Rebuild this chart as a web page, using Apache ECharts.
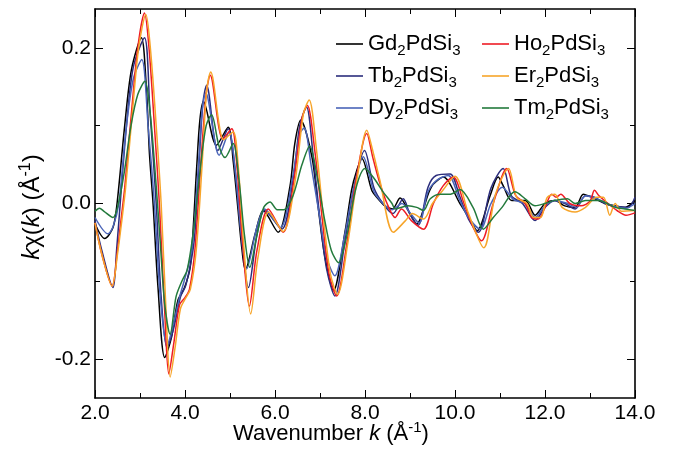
<!DOCTYPE html>
<html>
<head>
<meta charset="utf-8">
<script src="https://cdn.jsdelivr.net/npm/echarts@6/dist/echarts.min.js"></script>
<style>html,body{margin:0;padding:0;background:#fff}#c{width:677px;height:461px}</style>
</head>
<body>
<div id="c"></div>
<script>
const seriesNames = ['Gd2PdSi3', 'Tb2PdSi3', 'Dy2PdSi3', 'Ho2PdSi3', 'Er2PdSi3', 'Tm2PdSi3'];
const xTicks = [2, 4, 6, 8, 10, 12, 14];
const yTickLabels = [-0.2, 0.0, 0.2];
const yMinorTicks = [-0.1, 0.1];

const gd = [[2.0,-0.026],[2.215,-0.045],[2.4,-0.031],[2.49,0.0],[2.66,0.1],[2.81,0.172],[3.03,0.213],[3.14,0.15],[3.21,0.064],[3.29,0.0],[3.4,-0.108],[3.55,-0.198],[3.7,-0.172],[3.84,-0.125],[3.99,-0.108],[4.12,-0.08],[4.26,0.047],[4.33,0.107],[4.41,0.131],[4.7,0.075],[4.96,0.098],[5.07,0.055],[5.18,-0.009],[5.26,-0.056],[5.34,-0.085],[5.56,-0.039],[5.74,-0.009],[6.07,-0.037],[6.33,0.021],[6.44,0.077],[6.57,0.107],[6.82,0.06],[6.96,-0.005],[7.11,-0.069],[7.3,-0.112],[7.56,-0.035],[7.7,0.017],[7.82,0.043],[7.93,0.058],[8.15,0.017],[8.26,0.008],[8.44,-0.003],[8.61,-0.007],[8.78,0.007],[8.96,-0.009],[9.15,-0.026],[9.41,0.013],[9.52,0.025],[9.74,0.034],[10.11,0.0],[10.33,-0.02],[10.49,-0.035],[10.78,0.01],[10.96,0.034],[11.07,0.023],[11.26,0.004],[11.56,0.004],[11.78,-0.015],[12.0,0.0],[12.22,0.004],[12.44,-0.003],[12.67,-0.005],[12.85,0.012],[13.04,0.008],[13.33,0.0],[13.56,-0.003],[13.78,-0.005],[14.0,0.004]];
const tb = [[2.0,-0.022],[2.15,-0.06],[2.4,-0.108],[2.48,-0.06],[2.56,0.0],[2.7,0.1],[2.85,0.175],[3.1,0.213],[3.22,0.12],[3.36,0.0],[3.47,-0.12],[3.6,-0.185],[3.75,-0.16],[3.9,-0.12],[4.02,-0.105],[4.2,-0.05],[4.3,0.04],[4.4,0.13],[4.48,0.152],[4.73,0.068],[4.96,0.096],[5.1,0.05],[5.25,-0.04],[5.41,-0.108],[5.6,-0.04],[5.77,-0.009],[6.15,-0.033],[6.4,0.03],[6.55,0.1],[6.7,0.124],[6.85,0.06],[7.0,-0.02],[7.15,-0.085],[7.33,-0.119],[7.55,-0.05],[7.75,0.02],[7.99,0.068],[8.2,0.02],[8.4,0.0],[8.62,-0.013],[8.85,0.006],[9.0,-0.014],[9.18,-0.028],[9.4,0.021],[9.58,0.036],[9.89,0.038],[10.1,0.01],[10.3,-0.02],[10.52,-0.037],[10.8,0.02],[11.07,0.045],[11.25,0.01],[11.5,0.0],[11.78,-0.022],[12.0,-0.005],[12.22,0.004],[12.44,0.0],[12.67,-0.007],[12.9,0.01],[13.1,0.008],[13.33,0.0],[13.6,-0.004],[13.85,-0.005],[14.0,0.008]];
const dy = [[2.0,-0.018],[2.29,-0.039],[2.4,-0.03],[2.53,0.0],[2.68,0.09],[2.85,0.16],[3.04,0.185],[3.18,0.1],[3.32,0.0],[3.45,-0.12],[3.6,-0.183],[3.72,-0.16],[3.88,-0.12],[3.98,-0.1],[4.15,-0.06],[4.3,0.05],[4.38,0.12],[4.46,0.142],[4.76,0.062],[4.98,0.092],[5.12,0.04],[5.25,-0.04],[5.37,-0.084],[5.6,-0.03],[5.77,-0.007],[6.12,-0.031],[6.38,0.03],[6.55,0.09],[6.65,0.097],[6.8,0.05],[7.0,-0.02],[7.15,-0.07],[7.33,-0.093],[7.55,-0.04],[7.75,0.02],[7.96,0.06],[8.2,0.015],[8.4,0.0],[8.6,-0.008],[8.82,0.0],[9.0,-0.012],[9.2,-0.025],[9.4,0.015],[9.6,0.03],[9.85,0.036],[10.1,0.005],[10.3,-0.018],[10.56,-0.033],[10.8,0.0],[11.05,0.021],[11.3,0.005],[11.55,0.0],[11.78,-0.018],[12.0,-0.003],[12.22,0.004],[12.5,0.0],[12.7,-0.005],[12.9,0.01],[13.2,0.005],[13.5,-0.003],[13.8,-0.006],[14.0,0.0]];
const ho = [[2.0,-0.025],[2.15,-0.065],[2.38,-0.106],[2.5,-0.06],[2.58,-0.02],[2.66,0.02],[2.8,0.11],[2.95,0.2],[3.1,0.245],[3.2,0.2],[3.32,0.1],[3.43,0.0],[3.55,-0.14],[3.64,-0.219],[3.75,-0.18],[3.88,-0.13],[4.0,-0.121],[4.1,-0.11],[4.22,-0.06],[4.35,0.05],[4.47,0.14],[4.56,0.165],[4.84,0.083],[5.04,0.096],[5.15,0.05],[5.28,-0.05],[5.43,-0.132],[5.6,-0.06],[5.85,-0.007],[6.18,-0.037],[6.42,0.03],[6.6,0.11],[6.72,0.126],[6.88,0.07],[7.05,-0.02],[7.2,-0.09],[7.37,-0.119],[7.6,-0.05],[7.8,0.03],[8.04,0.09],[8.17,0.06],[8.31,0.03],[8.49,0.0],[8.67,-0.018],[8.81,-0.007],[9.03,-0.022],[9.3,-0.033],[9.52,0.0],[9.74,0.023],[9.96,0.034],[10.2,0.0],[10.4,-0.03],[10.59,-0.048],[10.85,0.0],[11.15,0.045],[11.35,0.01],[11.56,0.0],[11.7,-0.018],[11.85,-0.02],[12.0,-0.005],[12.15,0.012],[12.25,0.008],[12.35,0.012],[12.55,0.0],[12.8,-0.003],[13.0,0.003],[13.1,0.017],[13.2,0.01],[13.4,0.0],[13.6,-0.009],[13.8,-0.015],[14.0,-0.012]];
const er = [[2.0,-0.025],[2.15,-0.065],[2.38,-0.106],[2.5,-0.065],[2.6,-0.02],[2.68,0.02],[2.82,0.11],[2.97,0.2],[3.13,0.243],[3.23,0.2],[3.36,0.1],[3.47,0.0],[3.58,-0.14],[3.67,-0.223],[3.78,-0.185],[3.9,-0.135],[4.02,-0.121],[4.12,-0.11],[4.25,-0.06],[4.38,0.05],[4.48,0.145],[4.57,0.169],[4.86,0.082],[5.07,0.092],[5.18,0.05],[5.3,-0.05],[5.46,-0.142],[5.62,-0.07],[5.86,-0.011],[6.18,-0.036],[6.45,0.03],[6.63,0.115],[6.76,0.133],[6.92,0.07],[7.08,-0.02],[7.23,-0.09],[7.39,-0.117],[7.62,-0.05],[7.82,0.03],[8.04,0.094],[8.15,0.073],[8.33,0.03],[8.63,-0.037],[8.9,-0.022],[9.05,-0.013],[9.3,-0.02],[9.5,0.0],[9.73,0.017],[10.0,0.035],[10.3,-0.013],[10.64,-0.057],[10.9,0.012],[11.19,0.045],[11.37,0.008],[11.6,0.0],[11.75,-0.018],[11.9,-0.018],[12.05,0.008],[12.22,0.012],[12.38,-0.005],[12.67,-0.011],[12.9,-0.005],[13.15,0.008],[13.3,0.008],[13.44,-0.015],[13.56,0.0],[13.7,-0.01],[14.0,-0.009]];
const tm = [[2.0,-0.01],[2.1,-0.006],[2.2,-0.01],[2.4,-0.018],[2.5,-0.005],[2.65,0.04],[2.8,0.1],[2.95,0.14],[3.11,0.157],[3.22,0.12],[3.35,0.03],[3.45,-0.05],[3.55,-0.13],[3.67,-0.168],[3.8,-0.12],[3.93,-0.1],[4.05,-0.085],[4.2,-0.03],[4.35,0.05],[4.47,0.1],[4.59,0.114],[4.75,0.075],[4.89,0.059],[5.07,0.077],[5.2,0.03],[5.32,-0.04],[5.44,-0.082],[5.6,-0.04],[5.75,-0.005],[5.89,0.002],[6.05,-0.008],[6.2,-0.008],[6.4,0.01],[6.6,0.05],[6.77,0.074],[6.95,0.03],[7.1,-0.02],[7.25,-0.06],[7.41,-0.076],[7.6,-0.04],[7.8,0.02],[8.0,0.045],[8.18,0.034],[8.4,0.015],[8.6,0.0],[8.67,-0.007],[8.95,-0.003],[9.15,-0.005],[9.3,-0.009],[9.45,0.006],[9.67,0.012],[9.9,0.012],[10.11,0.018],[10.4,-0.005],[10.63,-0.033],[10.85,-0.018],[11.07,-0.003],[11.22,0.01],[11.33,0.015],[11.56,0.006],[11.78,-0.003],[12.0,0.0],[12.22,0.004],[12.5,0.006],[12.67,0.0],[12.9,0.004],[13.2,0.004],[13.56,-0.005],[13.78,-0.007],[14.0,-0.009]];

const seriesData = [gd, tb, dy, ho, er, tm];
const colors = ['#000000', '#2b2d7c', '#4a64b8', '#ee1c25', '#f7a52a', '#237a3c'];

const FONT = '"Liberation Sans", Arial, Helvetica, sans-serif';
const chart = echarts.init(document.getElementById('c'), null, {renderer: 'canvas'});

const fmtName = n => n.replace(/(\d)/g, '{s|$1}');
const legendText = {
  fontSize: 22, fontFamily: FONT, color: '#000',
  rich: { s: { fontSize: 15, fontFamily: FONT, color: '#000', padding: [13, 0, 0, 0] } }
};

function xAx(pos, labels) {
  return {
    type: 'value', min: 2, max: 14, interval: 2, position: pos,
    axisLine: { show: true, onZero: false, lineStyle: { color: '#000', width: 1.6 } },
    axisTick: { show: true, inside: true, length: 8, lineStyle: { color: '#000', width: 1 } },
    minorTick: { show: true, splitNumber: 2, length: 5, lineStyle: { color: '#000', width: 1 } },
    axisLabel: { show: labels, fontSize: 21, fontFamily: FONT, color: '#000', margin: 5,
      formatter: v => v.toFixed(1) },
    splitLine: { show: false }, minorSplitLine: { show: false }
  };
}
function yAx(pos, major, labels) {
  return {
    type: 'value', min: -0.25, max: 0.25, position: pos,
    axisLine: { show: major, onZero: false, lineStyle: { color: '#000', width: 1.6 } },
    axisTick: { show: true, inside: true, length: major ? 8 : 5, customValues: major ? yTickLabels : yMinorTicks,
      lineStyle: { color: '#000', width: 1 } },
    axisLabel: { show: labels, customValues: yTickLabels, fontSize: 21, fontFamily: FONT, color: '#000', margin: 4,
      formatter: v => v.toFixed(1) },
    splitLine: { show: false }
  };
}

const legendBase = { orient: 'vertical', top: 33, padding: 0, itemWidth: 27, itemHeight: 1.6,
  itemGap: 7, formatter: fmtName, textStyle: legendText, icon: 'rect', itemStyle: { borderWidth: 0 } };

const option = {
  backgroundColor: '#fff',
  animation: false,
  grid: { left: 95, right: 42, top: 9, bottom: 63, containLabel: false },
  xAxis: [xAx('bottom', true), xAx('top', false)],
  yAxis: [yAx('left', true, true), yAx('left', false, false), yAx('right', true, false), yAx('right', false, false)],
  legend: [
    Object.assign({ data: seriesNames.slice(0, 3), left: 336 }, legendBase),
    Object.assign({ data: seriesNames.slice(3), left: 482 }, legendBase)
  ],
  series: seriesNames.map((n, i) => ({
    name: n, type: 'line', data: seriesData[i], xAxisIndex: 0, yAxisIndex: 0,
    symbol: 'none', smooth: 0.3, color: colors[i],
    lineStyle: { color: colors[i], width: 1.5 }
  })),
  graphic: [
    { type: 'text', x: 331, y: 434, style: {
        text: '{n|Wavenumber }{i|k}{n| (Å}{s|-1}{n|)}', align: 'center', verticalAlign: 'middle',
        rich: { n: { fontSize: 22, fontFamily: FONT, fill: '#000' }, i: { fontSize: 22, fontFamily: FONT, fontStyle: 'italic', fill: '#000' },
                s: { fontSize: 15, fontFamily: FONT, fill: '#000', padding: [0, 0, 12, 0] } } } },
    { type: 'text', x: 32, y: 207, rotation: Math.PI / 2, style: {
        text: '{i|k}{n|χ(}{i|k}{n|) (Å}{s|-1}{n|)}', align: 'center', verticalAlign: 'middle',
        rich: { n: { fontSize: 24, fontFamily: FONT, fill: '#000' }, i: { fontSize: 24, fontFamily: FONT, fontStyle: 'italic', fill: '#000' },
                s: { fontSize: 16, fontFamily: FONT, fill: '#000', padding: [0, 0, 13, 0] } } } }
  ]
};
chart.setOption(option);
</script>
</body>
</html>
